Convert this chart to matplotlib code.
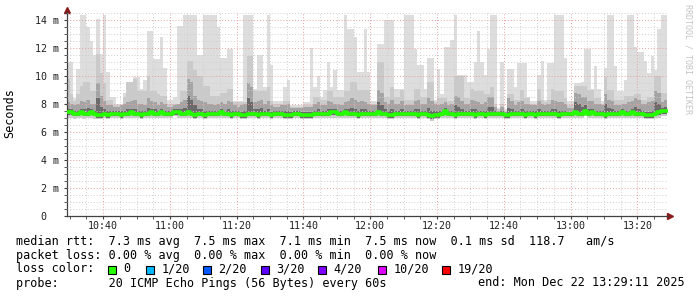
import matplotlib.pyplot as plt
import numpy as np
from matplotlib.patches import Rectangle

plt.rcParams["font.family"] = "DejaVu Sans Mono"

# one round of 20 pings per minute, minutes since midnight (10:29 .. 13:29)
t_first = 10 * 60 + 29
t_view = (10 * 60 + 29 + 11 / 60, 13 * 60 + 29 + 11 / 60)

# slowest ping of each round (ms)
ping_max = [
    11.0, 11.0, 8.4, 10.5, 14.4, 14.4, 13.5, 12.5, 11.5, 14.1, 11.6, 14.4, 10.3, 8.5, 8.5, 8.0, 8.0, 8.8, 8.5, 8.5,
    9.9, 9.9, 9.1, 9.7, 13.2, 13.2, 11.2, 11.2, 12.8, 10.6, 8.3, 8.3, 8.5, 13.6, 13.6, 14.4, 14.4, 14.4, 14.4, 11.5,
    11.5, 14.4, 14.4, 14.4, 14.4, 13.5, 11.3, 11.3, 11.9, 11.9, 8.2, 8.2, 8.2, 14.4, 14.4, 14.4, 9.1, 11.5, 11.5, 9.2,
    14.4, 10.8, 8.2, 8.2, 8.2, 9.2, 9.7, 7.9, 7.9, 7.9, 7.9, 8.1, 8.1, 12.0, 9.2, 10.0, 8.5, 9.0, 11.0, 9.2,
    10.4, 9.0, 9.0, 14.4, 13.4, 13.4, 12.8, 10.3, 10.3, 13.4, 10.3, 8.2, 8.2, 12.3, 12.3, 14.0, 14.0, 14.0, 9.1, 9.1,
    9.1, 14.4, 14.4, 14.4, 11.9, 10.8, 10.8, 9.1, 11.3, 11.3, 8.3, 10.5, 8.7, 12.1, 12.1, 12.6, 14.4, 10.1, 10.1, 10.1,
    9.6, 9.6, 11.0, 13.2, 11.0, 10.1, 11.9, 14.4, 14.4, 7.7, 11.0, 7.6, 10.5, 10.5, 9.2, 10.9, 10.9, 10.9, 8.5, 8.2,
    8.2, 10.1, 11.1, 8.3, 10.9, 10.9, 14.4, 14.4, 14.4, 11.3, 8.2, 8.2, 9.5, 9.5, 9.6, 11.9, 11.9, 9.1, 10.7, 9.1,
    8.2, 10.6, 14.4, 14.4, 10.7, 8.9, 8.9, 9.7, 14.4, 14.4, 12.1, 11.7, 11.7, 11.1, 10.2, 11.4, 10.4, 13.4, 14.4, 14.4,
]

# second slowest ping
ping_19 = [
    9.8, 8.7, 8.2, 8.7, 9.3, 9.6, 9.6, 8.9, 8.9, 11.6, 10.2, 9.5, 8.3, 8.3, 7.9, 7.9, 7.9, 8.5, 9.6, 9.6,
    9.8, 8.9, 8.9, 8.9, 10.0, 8.9, 8.9, 8.7, 8.6, 8.6, 8.0, 8.0, 8.0, 8.0, 8.9, 8.9, 11.1, 11.1, 10.4, 10.0,
    10.0, 9.3, 9.3, 8.6, 8.6, 8.6, 8.8, 8.8, 9.1, 9.1, 8.1, 8.1, 8.1, 8.1, 11.4, 11.4, 8.9, 8.9, 8.9, 8.9,
    9.2, 8.2, 8.0, 8.0, 8.0, 8.2, 8.2, 7.8, 7.8, 7.8, 7.8, 7.9, 7.9, 7.9, 8.5, 8.5, 8.3, 8.3, 8.9, 8.9,
    8.5, 8.5, 8.5, 8.9, 8.9, 9.6, 9.6, 9.0, 9.0, 9.0, 9.0, 8.0, 8.0, 11.0, 11.0, 8.5, 8.5, 9.2, 8.5, 8.5,
    9.0, 8.3, 8.3, 8.3, 9.1, 9.1, 8.5, 8.5, 9.6, 9.6, 8.1, 8.4, 8.4, 8.4, 8.2, 8.2, 10.0, 10.0, 10.0, 8.4,
    8.4, 9.1, 8.9, 8.9, 8.9, 8.7, 8.7, 9.2, 8.0, 7.6, 8.0, 7.5, 8.7, 8.7, 8.3, 8.3, 9.0, 8.4, 8.4, 8.0,
    8.0, 9.1, 8.3, 8.1, 8.3, 9.1, 8.9, 8.9, 8.9, 8.4, 7.9, 7.9, 9.3, 9.3, 9.3, 9.3, 9.0, 9.0, 8.4, 8.4,
    8.0, 9.9, 9.0, 9.0, 8.3, 8.3, 8.3, 8.6, 8.6, 8.6, 8.7, 8.7, 8.3, 8.3, 8.5, 8.5, 10.0, 10.0, 8.8, 8.8,
]

# upper quarter of the pings
ping_17 = [
    8.1, 8.0, 7.9, 8.0, 8.2, 8.1, 8.3, 8.0, 8.0, 9.5, 8.6, 8.2, 7.9, 7.9, 7.8, 7.8, 7.9, 8.0, 8.1, 8.2,
    8.3, 8.0, 8.0, 7.9, 8.4, 8.2, 8.1, 7.9, 8.1, 8.0, 7.8, 7.8, 7.9, 8.0, 8.1, 8.3, 9.8, 9.6, 8.6, 8.3,
    8.2, 8.1, 8.0, 8.0, 7.9, 8.0, 8.1, 8.0, 8.2, 8.1, 7.9, 7.8, 7.9, 8.0, 9.5, 9.2, 8.1, 8.2, 8.3, 8.0,
    8.2, 7.9, 7.8, 7.8, 7.9, 7.9, 8.0, 7.7, 7.7, 7.7, 7.7, 7.8, 7.8, 7.8, 8.0, 8.1, 7.9, 7.9, 8.2, 8.1,
    8.0, 8.0, 7.9, 8.1, 8.2, 8.4, 8.3, 8.1, 8.2, 8.1, 8.0, 7.9, 7.9, 9.0, 8.8, 8.1, 8.0, 8.3, 8.0, 8.0,
    8.2, 7.9, 7.9, 7.9, 8.2, 8.3, 8.0, 8.0, 8.4, 8.2, 8.0, 7.9, 8.0, 8.1, 7.9, 8.0, 8.6, 8.5, 8.2, 8.0,
    8.0, 8.3, 8.2, 8.1, 8.0, 8.1, 8.5, 8.5, 7.8, 7.5, 7.8, 7.4, 8.4, 8.2, 7.9, 8.1, 8.2, 8.0, 8.0, 7.9,
    7.9, 8.2, 8.0, 7.9, 8.0, 8.3, 8.2, 8.1, 8.1, 8.0, 7.7, 7.7, 8.8, 8.7, 8.5, 8.5, 8.2, 8.2, 8.0, 8.0,
    7.9, 8.7, 8.3, 8.2, 7.9, 7.9, 8.0, 8.0, 8.1, 8.2, 8.4, 8.3, 8.0, 8.0, 8.1, 8.2, 8.9, 8.8, 8.1, 8.3,
]

# dense core just above the median
ping_15 = [
    7.6, 7.6, 7.5, 7.5, 7.6, 7.6, 7.7, 7.6, 7.5, 8.4, 7.8, 7.6, 7.5, 7.5, 7.5, 7.5, 7.5, 7.5, 7.6, 7.6,
    7.6, 7.5, 7.5, 7.5, 7.7, 7.6, 7.6, 7.5, 7.6, 7.5, 7.5, 7.5, 7.6, 7.6, 7.6, 7.7, 8.6, 8.3, 7.9, 7.6,
    7.6, 7.5, 7.5, 7.5, 7.5, 7.5, 7.6, 7.5, 7.6, 7.5, 7.5, 7.5, 7.4, 7.5, 8.4, 8.1, 7.6, 7.6, 7.7, 7.5,
    7.6, 7.4, 7.5, 7.5, 7.5, 7.5, 7.5, 7.4, 7.5, 7.5, 7.4, 7.4, 7.4, 7.4, 7.5, 7.6, 7.5, 7.5, 7.6, 7.6,
    7.6, 7.5, 7.5, 7.6, 7.6, 7.7, 7.6, 7.5, 7.6, 7.6, 7.5, 7.5, 7.5, 8.1, 7.9, 7.6, 7.5, 7.6, 7.5, 7.5,
    7.6, 7.5, 7.5, 7.5, 7.6, 7.6, 7.5, 7.5, 7.7, 7.5, 7.5, 7.5, 7.5, 7.7, 7.5, 7.5, 7.9, 7.8, 7.6, 7.5,
    7.5, 7.6, 7.6, 7.5, 7.5, 7.5, 7.8, 7.8, 7.5, 7.4, 7.5, 7.3, 7.7, 7.6, 7.5, 7.5, 7.6, 7.5, 7.5, 7.5,
    7.5, 7.6, 7.5, 7.5, 7.5, 7.6, 7.6, 7.5, 7.5, 7.5, 7.4, 7.4, 8.1, 8.0, 7.8, 7.9, 7.6, 7.6, 7.5, 7.5,
    7.5, 8.0, 7.7, 7.6, 7.5, 7.5, 7.6, 7.5, 7.5, 7.6, 7.8, 7.6, 7.5, 7.4, 7.4, 7.5, 8.1, 8.0, 7.7, 7.8,
]

# median rtt (ms)
median = [
    7.4, 7.4, 7.3, 7.3, 7.4, 7.3, 7.3, 7.4, 7.3, 7.2, 7.2, 7.3, 7.2, 7.3, 7.3, 7.3, 7.2, 7.3, 7.3, 7.4,
    7.3, 7.3, 7.2, 7.3, 7.3, 7.4, 7.3, 7.3, 7.4, 7.3, 7.3, 7.3, 7.4, 7.4, 7.3, 7.3, 7.4, 7.3, 7.2, 7.3,
    7.3, 7.2, 7.3, 7.3, 7.3, 7.3, 7.4, 7.3, 7.3, 7.2, 7.3, 7.3, 7.2, 7.2, 7.3, 7.3, 7.3, 7.2, 7.3, 7.3,
    7.3, 7.2, 7.3, 7.3, 7.3, 7.2, 7.2, 7.2, 7.3, 7.3, 7.2, 7.2, 7.2, 7.2, 7.3, 7.3, 7.3, 7.3, 7.3, 7.4,
    7.4, 7.3, 7.3, 7.4, 7.3, 7.3, 7.3, 7.2, 7.3, 7.3, 7.3, 7.3, 7.3, 7.4, 7.3, 7.3, 7.2, 7.2, 7.3, 7.3,
    7.3, 7.3, 7.3, 7.3, 7.3, 7.2, 7.3, 7.3, 7.2, 7.1, 7.2, 7.2, 7.3, 7.5, 7.3, 7.3, 7.2, 7.3, 7.3, 7.3,
    7.3, 7.3, 7.2, 7.3, 7.3, 7.2, 7.3, 7.3, 7.3, 7.3, 7.3, 7.2, 7.2, 7.3, 7.3, 7.3, 7.3, 7.2, 7.3, 7.3,
    7.2, 7.3, 7.3, 7.3, 7.3, 7.3, 7.3, 7.2, 7.3, 7.3, 7.3, 7.3, 7.4, 7.3, 7.3, 7.5, 7.3, 7.4, 7.3, 7.3,
    7.3, 7.2, 7.3, 7.3, 7.3, 7.3, 7.4, 7.3, 7.3, 7.4, 7.3, 7.3, 7.3, 7.2, 7.2, 7.2, 7.3, 7.4, 7.5, 7.5,
]

# third fastest ping
ping_3 = [
    7.2, 7.2, 7.1, 7.1, 7.2, 7.1, 7.1, 7.2, 7.1, 7.0, 7.0, 7.1, 7.0, 7.1, 7.1, 7.1, 7.0, 7.1, 7.1, 7.2,
    7.1, 7.1, 7.0, 7.1, 7.1, 7.2, 7.1, 7.1, 7.2, 7.1, 7.1, 7.1, 7.2, 7.2, 7.1, 7.1, 7.2, 7.1, 7.0, 7.1,
    7.1, 7.0, 7.1, 7.1, 7.1, 7.1, 7.2, 7.1, 7.1, 7.0, 7.1, 7.1, 7.0, 7.0, 7.1, 7.1, 7.1, 7.0, 7.1, 7.1,
    7.1, 7.0, 7.1, 7.1, 7.1, 7.0, 7.0, 7.0, 7.1, 7.1, 7.0, 7.0, 7.0, 7.0, 7.1, 7.1, 7.1, 7.1, 7.1, 7.2,
    7.2, 7.1, 7.1, 7.2, 7.1, 7.1, 7.1, 7.0, 7.1, 7.1, 7.1, 7.1, 7.1, 7.2, 7.1, 7.1, 7.0, 7.0, 7.1, 7.1,
    7.1, 7.1, 7.1, 7.1, 7.1, 7.0, 7.1, 7.1, 7.0, 6.9, 7.0, 7.0, 7.1, 7.3, 7.1, 7.1, 7.0, 7.1, 7.1, 7.1,
    7.1, 7.1, 7.0, 7.1, 7.1, 7.0, 7.1, 7.1, 7.1, 7.1, 7.1, 7.0, 7.0, 7.1, 7.1, 7.1, 7.1, 7.0, 7.1, 7.1,
    7.0, 7.1, 7.1, 7.1, 7.1, 7.1, 7.1, 7.0, 7.1, 7.1, 7.1, 7.1, 7.2, 7.1, 7.1, 7.3, 7.1, 7.2, 7.1, 7.1,
    7.1, 7.0, 7.1, 7.1, 7.1, 7.1, 7.2, 7.1, 7.1, 7.2, 7.1, 7.1, 7.1, 7.0, 7.0, 7.0, 7.1, 7.2, 7.3, 7.3,
]

# fastest ping
ping_min = [
    7.0, 7.0, 6.9, 7.0, 7.0, 6.9, 7.0, 7.0, 6.9, 6.9, 6.9, 7.0, 6.9, 7.0, 7.0, 7.0, 6.9, 7.0, 7.0, 7.0,
    7.0, 7.0, 6.9, 7.0, 7.0, 7.0, 7.0, 7.0, 7.0, 7.0, 7.0, 7.0, 7.1, 7.0, 7.0, 7.0, 7.0, 7.0, 6.9, 7.0,
    7.0, 6.9, 7.0, 7.0, 7.0, 7.0, 7.0, 7.0, 7.0, 6.9, 7.0, 7.0, 6.9, 6.9, 7.0, 7.0, 7.0, 6.9, 7.0, 7.0,
    7.0, 6.9, 7.0, 7.0, 7.0, 6.9, 6.9, 6.9, 7.0, 7.0, 6.9, 6.9, 6.9, 6.9, 7.0, 7.0, 7.0, 7.0, 7.0, 7.0,
    7.0, 7.0, 7.0, 7.0, 7.0, 7.0, 7.0, 6.9, 7.0, 7.0, 7.0, 7.0, 7.0, 7.0, 7.0, 7.0, 6.9, 6.9, 7.0, 7.0,
    7.0, 7.0, 7.0, 7.0, 7.0, 6.9, 7.0, 7.0, 6.9, 6.8, 6.9, 6.9, 7.0, 7.0, 7.0, 7.0, 6.9, 7.0, 7.0, 7.0,
    7.0, 7.0, 6.9, 7.0, 7.0, 6.9, 7.0, 7.0, 7.0, 7.0, 7.0, 6.9, 6.9, 7.0, 7.0, 7.0, 7.0, 6.9, 7.0, 7.0,
    6.9, 7.0, 7.0, 7.0, 7.0, 7.0, 7.0, 6.9, 7.0, 7.0, 7.0, 7.0, 7.0, 7.0, 7.0, 7.1, 7.0, 7.0, 7.0, 7.0,
    7.0, 6.9, 7.0, 7.0, 7.0, 7.0, 7.0, 7.0, 7.0, 7.0, 7.0, 7.0, 7.0, 6.9, 6.9, 6.9, 7.0, 7.0, 7.1, 7.1,
]

y_ticks = [0, 2, 4, 6, 8, 10, 12, 14]
y_tick_labels = ["0  ", "2 m", "4 m", "6 m", "8 m", "10 m", "12 m", "14 m"]
x_ticks = [640, 660, 680, 700, 720, 740, 760, 780, 800]
x_tick_labels = ["10:40", "11:00", "11:20", "11:40", "12:00", "12:20", "12:40", "13:00", "13:20"]

loss_labels = ["0", "1/20", "2/20", "3/20", "4/20", "10/20", "19/20"]
loss_colors = ["#26ff00", "#00b8ff", "#0059ff", "#5e00ff", "#7e00ff", "#dd00ff", "#ff0000"]

legend_lines = [
    "median rtt:  7.3 ms avg  7.5 ms max  7.1 ms min  7.5 ms now  0.1 ms sd  118.7   am/s",
    "packet loss: 0.00 % avg  0.00 % max  0.00 % min  0.00 % now",
    "loss color:",
    "probe:       20 ICMP Echo Pings (56 Bytes) every 60s",
]
end_text = "end: Mon Dec 22 13:29:11 2025"

W, H = 697, 297
fig = plt.figure(figsize=(W / 100, H / 100), dpi=100)
ax = fig.add_axes([67 / W, 1 - 215.5 / H, 601 / W, (215.5 - 11.8) / H])

edges = t_first + np.arange(len(median) + 1)


def ext(v):
    # repeat the last value so step='post' covers the last minute
    return np.append(v, v[-1])


# smoke, outer (light) to inner (dark)
bands = [
    (ping_min, ping_max, "#dddddd"),
    (ping_min, ping_19, "#cacaca"),
    (ping_3, ping_17, "#a4a4a4"),
    (ping_3, ping_15, "#6b6b6b"),
]
for lo, hi, col in bands:
    ax.fill_between(edges, ext(lo), ext(hi), step="post", color=col, lw=0, zorder=1)

ax.step(edges, ext(median), where="post", color="#26ff00", lw=2.6, zorder=3)

ax.set_xlim(*t_view)
ax.set_ylim(0, 14.6)

ax.set_yticks(y_ticks)
ax.set_yticklabels(y_tick_labels)
ax.set_yticks(np.arange(0, 14.6, 0.5), minor=True)
ax.set_xticks(x_ticks)
ax.set_xticklabels(x_tick_labels)
ax.set_xticks(np.arange(630, 810, 5), minor=True)

ax.set_axisbelow(False)
ax.grid(which="minor", color="#cfcfcf", ls=(0, (1, 2)), lw=0.7)
ax.grid(which="major", color="#e6a0a0", ls=(0, (1, 2)), lw=0.7)

for s in ["top", "right"]:
    ax.spines[s].set_visible(False)
for s in ["left", "bottom"]:
    ax.spines[s].set_color("#404040")
    ax.spines[s].set_linewidth(0.9)

ax.tick_params(which="both", direction="out", length=2, color="#404040", labelsize=7.2, labelcolor="#202020")
ax.tick_params(axis="y", pad=3.6)
ax.tick_params(axis="x", pad=1.8)

# axis arrows
ax.plot([0], [1.01], marker="^", ms=4, color="#8b1a1a", transform=ax.transAxes, clip_on=False)
ax.plot([1.004], [0], marker=">", ms=4, color="#8b1a1a", transform=ax.transAxes, clip_on=False)

fig.text(10 / W, 1 - 113 / H, "Seconds", rotation=90, ha="center", va="center", fontsize=8.5)
fig.text(688 / W, 1 - 4 / H, "RRDTOOL / TOBI OETIKER", rotation=270, ha="center", va="top",
         fontsize=6, color="#c4c4c4")

# legend block
line_y = [241.3, 255.2, 269.0, 283.0]
for txt, yy in zip(legend_lines, line_y):
    fig.text(16 / W, 1 - yy / H, txt, ha="left", va="center", fontsize=8.5)
fig.text(478 / W, 1 - line_y[3] / H, end_text, ha="left", va="center", fontsize=8.5)

box_x = [108, 146, 203, 261, 318, 378, 442]
for bx, lab, col in zip(box_x, loss_labels, loss_colors):
    fig.add_artist(Rectangle((bx / W, 1 - 273.5 / H), 8 / W, 8 / H, transform=fig.transFigure,
                             facecolor=col, edgecolor="black", lw=0.8))
    fig.text((bx + 15.5) / W, 1 - line_y[2] / H, lab, ha="left", va="center", fontsize=8.5)

fig.savefig("out.png", dpi=100)
